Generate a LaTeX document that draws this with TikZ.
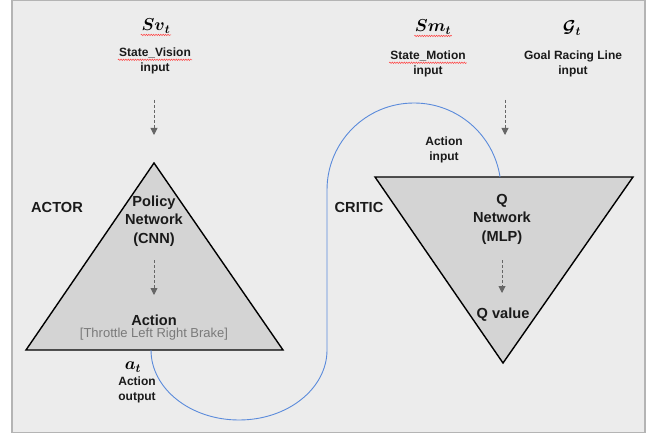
\documentclass[tikz,border=0pt]{standalone}
\usepackage{fontspec}
\setmainfont{Liberation Sans}
\usepackage{amsmath,amssymb}
\usetikzlibrary{positioning, arrows.meta, decorations.pathmorphing}
\definecolor{panel}{HTML}{ECECEC}
\definecolor{frameline}{HTML}{B4B4B4}
\definecolor{netfill}{HTML}{D4D4D4}
\definecolor{curveblue}{HTML}{5B8BDB}
\definecolor{hintgray}{HTML}{7A7A7A}
\definecolor{flowgray}{HTML}{666666}
\definecolor{inkblack}{HTML}{1A1A1A}
\tikzset{
  lbl/.style={font=\fontsize{12}{15}\selectfont\bfseries, text=inkblack, align=center, inner sep=1pt},
  biglbl/.style={font=\fontsize{14.6}{18.5}\selectfont\bfseries, text=inkblack, align=center, inner sep=1pt},
  hint/.style={font=\fontsize{13}{15}\selectfont, text=hintgray, inner sep=1pt},
  sym/.style={font=\fontsize{17}{17}\selectfont, inner sep=0.5pt},
  net/.style={draw=black, fill=netfill, line width=1.4pt, line join=miter},
  flow/.style={draw=flowgray, line width=0.9pt, dash pattern=on 3pt off 2pt,
    -{Triangle[length=7pt, width=7pt, fill=flowgray]}},
  link/.style={draw=curveblue, line width=0.9pt},
  squiggle/.style={draw=red!75!white, line width=0.5pt,
    decorate, decoration={snake, segment length=2.4pt, amplitude=0.7pt}}
}
\begin{document}
\begin{tikzpicture}[x=1pt, y=1pt]
  \useasboundingbox (0,0) rectangle (652,434);
  \draw[draw=frameline, fill=panel, line width=1.5pt] (12,1.5) rectangle (645,433.5);

  \coordinate (pl) at (26,84);
  \coordinate (pr) at (283,84);
  \coordinate (pt) at (154,271);
  \draw[net] (pl) -- (pt) -- (pr) -- cycle;
  \coordinate (ql) at (375,257);
  \coordinate (qr) at (633,257);
  \coordinate (qb) at (503,71);
  \draw[net] (ql) -- (qr) -- (qb) -- cycle;

  \node[sym] (svsym) at (156,408) {$\boldsymbol{Sv}_{\boldsymbol{t}}$};
  \node[lbl] (svname) at (155,381) {State\_Vision};
  \node[lbl, below=2.5pt of svname] (svin) {input};
  \node[sym] (smsym) at (433,407) {$\boldsymbol{Sm}_{\boldsymbol{t}}$};
  \node[lbl] (smname) at (428,378) {State\_Motion};
  \node[lbl, below=2.5pt of smname] (smin) {input};
  \node[sym] (gsym) at (572,406) {$\boldsymbol{\mathcal{G}}_{\boldsymbol{t}}$};
  \node[lbl] (gname) at (573,378) {Goal Racing Line};
  \node[lbl, below=1.5pt of gname] (gin) {input};
  \draw[squiggle] ([yshift=-1pt]svsym.south west) -- ([yshift=-1pt]svsym.south east);
  \draw[squiggle] ([yshift=-0.5pt]svname.south west) -- ([yshift=-0.5pt]svname.south east);
  \draw[squiggle] ([yshift=-1pt]smsym.south west) -- ([yshift=-1pt]smsym.south east);
  \draw[squiggle] ([yshift=-0.5pt]smname.south west) -- ([yshift=-0.5pt]smname.south east);

  \node[biglbl] (actor) at (57,227) {ACTOR};
  \node[biglbl] (policy) at (154,213) {Policy\\Network\\(CNN)};
  \node[biglbl] (action) at (154,114) {Action};
  \node[hint, below=0pt of action] (keys) {[Throttle Left Right Brake]};
  \node[sym] (asym) at (133,67) {$\boldsymbol{a}_{\boldsymbol{t}}$};
  \node[lbl] (aoutlbl) at (137,44) {Action\\output};

  \node[biglbl] (critic) at (359,227) {CRITIC};
  \node[lbl] (ainlbl) at (444,284) {Action\\input};
  \node[biglbl] (qnet) at (502,215) {Q\\Network\\(MLP)};
  \node[biglbl] (qval) at (503,119) {Q value};

  \coordinate (svtop) at (154,334);
  \coordinate (svbot) at (154,299);
  \coordinate (gtop) at (505,334);
  \coordinate (gbot) at (505,299);
  \coordinate (ptop) at (154,174);
  \coordinate (pbot) at (154,139);
  \coordinate (qtop) at (502,174);
  \coordinate (qbot) at (502,141);
  \draw[flow] (svtop) -- (svbot);
  \draw[flow] (gtop) -- (gbot);
  \draw[flow] (ptop) -- (pbot);
  \draw[flow] (qtop) -- (qbot);

  \coordinate (aout) at (151,84);
  \draw[link] (aout) arc[start angle=180, end angle=360, x radius=88, y radius=70]
    -- ++(0,160) arc[start angle=180, end angle=8.5, radius=87];
\end{tikzpicture}
\end{document}
